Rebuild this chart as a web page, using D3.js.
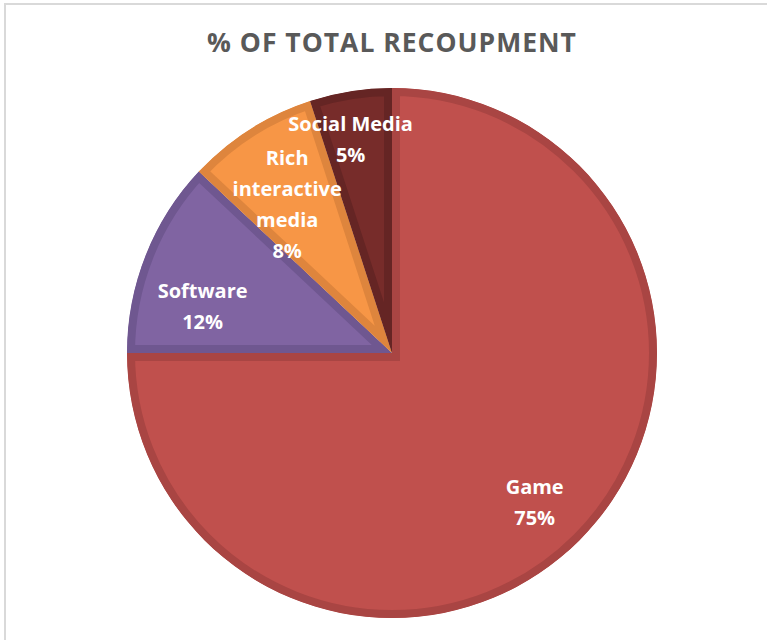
<!DOCTYPE html>
<html>
<head>
<meta charset="utf-8">
<script src="https://cdn.jsdelivr.net/npm/d3@7"></script>
<style>
  body { margin: 0; background: #fff; }
  svg { display: block; }
</style>
</head>
<body>
<svg id="chart" width="767" height="640"></svg>
<script>
// chart data
var categories = ["Game", "Software", "Rich interactive media", "Social Media"];
var shares = [75, 12, 8, 5];
var labelLines = [["Game", "75%"], ["Software", "12%"], ["Rich", "interactive", "media", "8%"], ["Social Media", "5%"]];
var fills = ["#c0504d", "#8064a2", "#f79646", "#772c2a"];
var edges = ["#a94543", "#6f5790", "#de853d", "#652524"];

// "best fit" label placement: share of radius, share of the slice's sweep
var labelRad = [0.78, 0.736, 0.685, 0.82];
var labelSweep = [0.505, 0.32, 0.40, 0.39];

var svg = d3.select("#chart"),
    width = +svg.attr("width"),
    height = +svg.attr("height");

// outer frame (only top/left visible)
svg.append("rect")
    .attr("x", 5).attr("y", 4)
    .attr("width", 900).attr("height", 900)
    .attr("fill", "none")
    .attr("stroke", "#d9d9d9")
    .attr("stroke-width", 2);

svg.append("text")
    .attr("x", 392)
    .attr("y", 52)
    .attr("text-anchor", "middle")
    .attr("font-family", "Open Sans, sans-serif")
    .attr("font-weight", "bold")
    .attr("font-size", "26.5px")
    .attr("letter-spacing", "1px")
    .attr("fill", "#595959")
    .text("% OF TOTAL RECOUPMENT");

var cx = 392, cy = 353, radius = 265;

var pie = d3.pie().sort(null).startAngle(0).endAngle(2 * Math.PI);
var arcs = pie(shares);
var arc = d3.arc().innerRadius(0).outerRadius(radius);

var g = svg.append("g").attr("transform", "translate(" + cx + "," + cy + ")");
var defs = svg.append("defs");

defs.selectAll("clipPath")
    .data(arcs)
    .enter()
    .append("clipPath")
    .attr("id", function(d, i) { return "clip" + i; })
    .append("path")
    .attr("d", arc);

g.selectAll("path.slice")
    .data(arcs)
    .enter()
    .append("path")
    .attr("class", "slice")
    .attr("d", arc)
    .attr("fill", function(d, i) { return fills[i]; })
    .attr("stroke", function(d, i) { return edges[i]; })
    .attr("stroke-width", 16)
    .attr("stroke-linejoin", "miter")
    .attr("clip-path", function(d, i) { return "url(#clip" + i + ")"; });

var lineH = 31;
var labels = g.selectAll("text.lbl")
    .data(arcs)
    .enter()
    .append("text")
    .attr("class", "lbl")
    .attr("text-anchor", "middle")
    .attr("font-family", "Open Sans, sans-serif")
    .attr("font-weight", "bold")
    .attr("font-size", "20px")
    .attr("fill", "#fff")
    .attr("transform", function(d, i) {
        var r = radius * labelRad[i];
        var a = d.startAngle + (d.endAngle - d.startAngle) * labelSweep[i];
        var c = d3.arc().innerRadius(r).outerRadius(r).centroid({startAngle: a, endAngle: a});
        return "translate(" + c[0] + "," + c[1] + ")";
    });

labels.each(function(d, i) {
    var lines = labelLines[i];
    var t = d3.select(this);
    var y0 = -(lines.length - 1) * lineH / 2 + 7;
    lines.forEach(function(s, k) {
        t.append("tspan").attr("x", 0).attr("y", y0 + k * lineH).text(s);
    });
});
</script>
</body>
</html>
